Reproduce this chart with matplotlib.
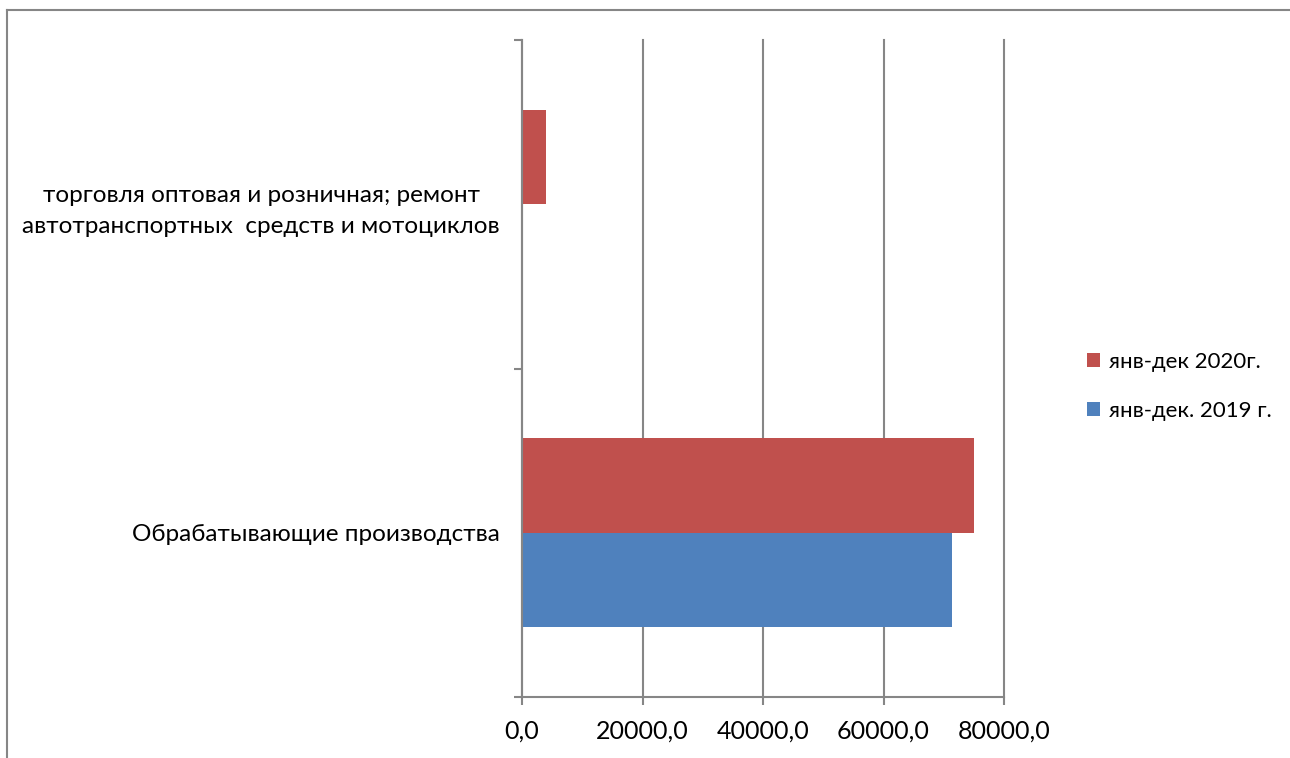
import numpy as np
import matplotlib
matplotlib.use('agg')
import matplotlib.pyplot as plt
from matplotlib.lines import Line2D
from matplotlib.ticker import FuncFormatter

plt.rcParams['font.family'] = ['Lato', 'DejaVu Sans']

categories = ['Обрабатывающие производства',
              'торговля оптовая и розничная; ремонт\nавтотранспортных  средств и мотоциклов']
vals_2019 = [71300, 0]
vals_2020 = [75000, 3980]
series_names = ['янв-дек. 2019 г.', 'янв-дек 2020г.']
xticks = [0, 20000, 40000, 60000, 80000]

c_blue = '#4f81bd'
c_red = '#c0504d'
c_gray = '#868686'

fig = plt.figure(figsize=(12.9, 7.58), dpi=100)
ax = fig.add_axes([0.4047, 0.0805, 0.3736, 0.8667])

y = np.arange(len(categories))
h = 0.287
b1 = ax.barh(y - h / 2, vals_2019, height=h, color=c_blue, label=series_names[0])
b2 = ax.barh(y + h / 2, vals_2020, height=h, color=c_red, label=series_names[1])

ax.set_xlim(0, 80000)
ax.set_ylim(-0.5, len(categories) - 0.5)
ax.set_xticks(xticks)
ax.xaxis.set_major_formatter(FuncFormatter(lambda v, p: f'{v:.1f}'.replace('.', ',')))
ax.grid(axis='x', color=c_gray, linewidth=1.5)
ax.set_axisbelow(True)
for gl in ax.get_xgridlines():
    gl.set_clip_on(False)

ax.set_yticks([-0.5, 0.5, 1.5])
ax.set_yticklabels([])
ax.set_yticks(y, minor=True)
ax.set_yticklabels(categories, minor=True, fontsize=17.5, multialignment='center',
                   linespacing=1.55)
ax.tick_params(axis='y', which='minor', length=0, pad=16)
ax.tick_params(axis='y', which='major', length=6, color=c_gray, width=1.5)
ax.tick_params(axis='x', length=6, color=c_gray, width=1.5, labelsize=18, pad=10)

for s in ['top', 'right']:
    ax.spines[s].set_visible(False)
for s in ['left', 'bottom']:
    ax.spines[s].set_color(c_gray)
    ax.spines[s].set_linewidth(1.5)

handles = [b2, b1]
ax.legend(handles, [h_.get_label() for h_ in handles], loc='center left',
          bbox_to_anchor=(1.13, 0.473), frameon=False, fontsize=16,
          handlelength=0.6, handleheight=0.6, handletextpad=0.4, labelspacing=1.3)

# outer frame (top and left only visible)
fig.add_artist(Line2D([7 / 1290, 1.0], [1 - 10 / 758] * 2, color=c_gray, lw=1.5,
                      transform=fig.transFigure))
fig.add_artist(Line2D([7 / 1290] * 2, [0, 1 - 10 / 758], color=c_gray, lw=1.5,
                      transform=fig.transFigure))

fig.savefig('out.png', dpi=100)
